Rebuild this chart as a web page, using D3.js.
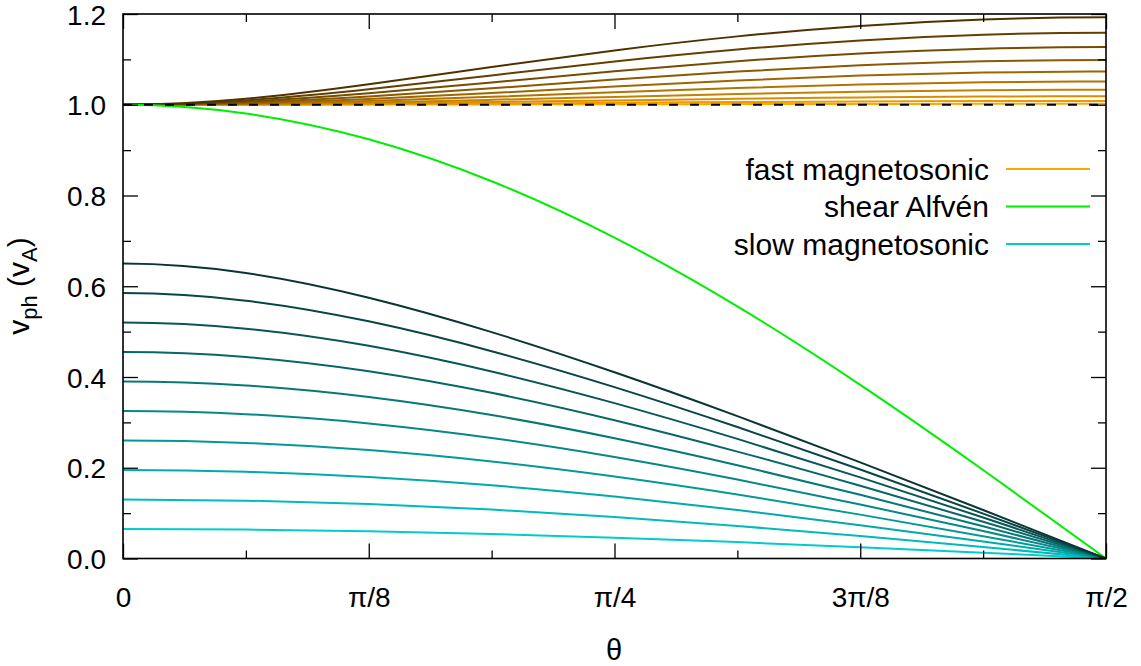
<!DOCTYPE html>
<html>
<head>
<meta charset="utf-8">
<script src="https://cdn.jsdelivr.net/npm/d3@7"></script>
<style>
  html, body { margin: 0; padding: 0; background: #fff; }
  svg { display: block; }
  text { font-family: "Liberation Sans", Arial, Helvetica, sans-serif; fill: #000; }
</style>
</head>
<body>
<svg id="chart" width="1141" height="666"></svg>
<script>
// θ sample positions (radians)
const theta = [0, 0.19635, 0.3927, 0.58905, 0.7854, 0.98175, 1.1781, 1.37445, 1.5708];

// fast magnetosonic branch, one curve per sound speed (low -> high)
const fast1  = [1, 1.0001, 1.0003, 1.0007, 1.0011, 1.0015, 1.0018, 1.0020, 1.0021];
const fast2  = [1, 1.0003, 1.0013, 1.0026, 1.0043, 1.0059, 1.0072, 1.0081, 1.0084];
const fast3  = [1, 1.0008, 1.0029, 1.0060, 1.0096, 1.0132, 1.0162, 1.0182, 1.0188];
const fast4  = [1, 1.0014, 1.0052, 1.0109, 1.0173, 1.0236, 1.0287, 1.0321, 1.0332];
const fast5  = [1, 1.0022, 1.0085, 1.0174, 1.0274, 1.0370, 1.0447, 1.0498, 1.0515];
const fast6  = [1, 1.0034, 1.0127, 1.0257, 1.0401, 1.0535, 1.0642, 1.0710, 1.0734];
const fast7  = [1, 1.0049, 1.0181, 1.0362, 1.0555, 1.0731, 1.0869, 1.0957, 1.0986];
const fast8  = [1, 1.0069, 1.0251, 1.0491, 1.0739, 1.0959, 1.1128, 1.1235, 1.1271];
const fast9  = [1, 1.0096, 1.0339, 1.0647, 1.0953, 1.1217, 1.1418, 1.1543, 1.1585];
const fast10 = [1, 1.0132, 1.0452, 1.0833, 1.1198, 1.1507, 1.1737, 1.1879, 1.1927];

// shear Alfvén
const alfven = [1, 0.9808, 0.9239, 0.8315, 0.7071, 0.5556, 0.3827, 0.1951, 0];

// slow magnetosonic branch
const slow1  = [0.065, 0.0637, 0.0600, 0.0540, 0.0459, 0.0361, 0.0248, 0.0127, 0];
const slow2  = [0.130, 0.1275, 0.1200, 0.1078, 0.0915, 0.0718, 0.0494, 0.0252, 0];
const slow3  = [0.195, 0.1911, 0.1796, 0.1612, 0.1366, 0.1069, 0.0734, 0.0374, 0];
const slow4  = [0.260, 0.2547, 0.2390, 0.2139, 0.1807, 0.1411, 0.0967, 0.0491, 0];
const slow5  = [0.325, 0.3181, 0.2977, 0.2656, 0.2237, 0.1741, 0.1191, 0.0604, 0];
const slow6  = [0.390, 0.3812, 0.3558, 0.3161, 0.2651, 0.2057, 0.1403, 0.0710, 0];
const slow7  = [0.455, 0.4441, 0.4129, 0.3651, 0.3048, 0.2356, 0.1602, 0.0810, 0];
const slow8  = [0.520, 0.5065, 0.4687, 0.4121, 0.3424, 0.2636, 0.1788, 0.0903, 0];
const slow9  = [0.585, 0.5683, 0.5227, 0.4569, 0.3777, 0.2897, 0.1961, 0.0989, 0];
const slow10 = [0.650, 0.6292, 0.5746, 0.4989, 0.4104, 0.3138, 0.2119, 0.1068, 0];

const fastSeries = [fast1, fast2, fast3, fast4, fast5, fast6, fast7, fast8, fast9, fast10];
const slowSeries = [slow1, slow2, slow3, slow4, slow5, slow6, slow7, slow8, slow9, slow10];

// axis ticks
const xTickValues = [0, 0.392699, 0.785398, 1.178097, 1.570796];
const xTickLabels = ["0", "π/8", "π/4", "3π/8", "π/2"];
const xMinorValues = [0.19635, 0.589049, 0.981748, 1.374447];
const yTickValues = [0, 0.2, 0.4, 0.6, 0.8, 1.0, 1.2];
const yMinorValues = [0.1, 0.3, 0.5, 0.7, 0.9, 1.1];

const legendLabels = ["fast magnetosonic", "shear Alfvén", "slow magnetosonic"];

// ---------------------------------------------------------------
const svg = d3.select("#chart");
const L = 123, R = 1106, T = 14, B = 558.5;
const x = d3.scaleLinear().domain([0, 1.570796]).range([L, R]);
const y = d3.scaleLinear().domain([0, 1.2]).range([B, T]);

const fastColor = d3.interpolateRgb("#ffa800", "#4f3200");
const slowColor = d3.interpolateRgb("#00cccc", "#0b3434");
const alfColor = "#00ee00";

svg.append("defs").append("clipPath").attr("id", "clip")
  .append("rect").attr("x", L).attr("y", T).attr("width", R - L).attr("height", B - T);

// The curves are even in θ about 0 (and the fast branch also about π/2):
// mirror the neighbouring samples across those ends so the spline leaves them flat.
function points(vals, mirrorRight) {
  const n = theta.length - 1;
  const pts = [[-theta[2], vals[2]], [-theta[1], vals[1]]];
  vals.forEach((v, i) => pts.push([theta[i], v]));
  if (mirrorRight) {
    pts.push([2 * theta[n] - theta[n - 1], vals[n - 1]]);
    pts.push([2 * theta[n] - theta[n - 2], vals[n - 2]]);
  }
  return pts;
}

const line = d3.line()
  .x(d => x(d[0]))
  .y(d => y(d[1]))
  .curve(d3.curveNatural);

const plot = svg.append("g").attr("clip-path", "url(#clip)");

fastSeries.forEach((s, k) => {
  plot.append("path").attr("d", line(points(s, true))).attr("fill", "none")
    .attr("stroke", fastColor(k / 9)).attr("stroke-width", 2);
});
plot.append("path").attr("d", line(points(alfven, false))).attr("fill", "none")
  .attr("stroke", alfColor).attr("stroke-width", 2);
slowSeries.forEach((s, k) => {
  plot.append("path").attr("d", line(points(s, false))).attr("fill", "none")
    .attr("stroke", slowColor(k / 9)).attr("stroke-width", 2);
});
// dashed reference at v_A
plot.append("line").attr("x1", L).attr("x2", R).attr("y1", y(1)).attr("y2", y(1))
  .attr("stroke", "#000").attr("stroke-width", 2).attr("stroke-dasharray", "9,12");

// axes (gnuplot style: inward ticks, mirrored)
const tickFont = 28;
const major = 15, minor = 8;

const axB = d3.axisBottom(x).tickValues(xTickValues).tickSizeInner(-major).tickSizeOuter(0)
  .tickFormat((d, i) => xTickLabels[i]);
const gB = svg.append("g").attr("transform", `translate(0,${B})`).call(axB);
gB.select(".domain").remove();
gB.selectAll("text").attr("font-size", tickFont).attr("font-family", null).attr("dy", 0)
  .attr("y", 48.5);

svg.append("g").attr("transform", `translate(0,${B})`)
  .call(d3.axisBottom(x).tickValues(xMinorValues).tickSizeInner(-minor).tickSizeOuter(0).tickFormat(""))
  .select(".domain").remove();
svg.append("g").attr("transform", `translate(0,${T})`)
  .call(d3.axisTop(x).tickValues(xTickValues).tickSizeInner(-major).tickSizeOuter(0).tickFormat(""))
  .select(".domain").remove();
svg.append("g").attr("transform", `translate(0,${T})`)
  .call(d3.axisTop(x).tickValues(xMinorValues).tickSizeInner(-minor).tickSizeOuter(0).tickFormat(""))
  .select(".domain").remove();

const axL = d3.axisLeft(y).tickValues(yTickValues).tickSizeInner(-major).tickSizeOuter(0)
  .tickFormat(d3.format(".1f"));
const gL = svg.append("g").attr("transform", `translate(${L},0)`).call(axL);
gL.select(".domain").remove();
gL.selectAll("text").attr("font-size", tickFont).attr("font-family", null)
  .attr("x", -17).attr("dy", "0.36em");

svg.append("g").attr("transform", `translate(${L},0)`)
  .call(d3.axisLeft(y).tickValues(yMinorValues).tickSizeInner(-minor).tickSizeOuter(0).tickFormat(""))
  .select(".domain").remove();
svg.append("g").attr("transform", `translate(${R},0)`)
  .call(d3.axisRight(y).tickValues(yTickValues).tickSizeInner(-major).tickSizeOuter(0).tickFormat(""))
  .select(".domain").remove();
svg.append("g").attr("transform", `translate(${R},0)`)
  .call(d3.axisRight(y).tickValues(yMinorValues).tickSizeInner(-minor).tickSizeOuter(0).tickFormat(""))
  .select(".domain").remove();

svg.selectAll(".tick line").attr("stroke", "#000").attr("stroke-width", 1.3);

// frame
svg.append("rect").attr("x", L).attr("y", T).attr("width", R - L).attr("height", B - T)
  .attr("fill", "none").attr("stroke", "#000").attr("stroke-width", 1.6);

// axis titles
svg.append("text").attr("x", 614).attr("y", 660).attr("text-anchor", "middle")
  .attr("font-size", 29).text("θ");

const yt = svg.append("text").attr("transform", "translate(29,286) rotate(-90)")
  .attr("text-anchor", "middle").attr("font-size", 30);
yt.append("tspan").text("v");
yt.append("tspan").attr("font-size", 22).attr("dy", 8).text("ph");
yt.append("tspan").attr("dy", -8).text(" (v");
yt.append("tspan").attr("font-size", 22).attr("dy", 8).text("A");
yt.append("tspan").attr("dy", -8).text(")");

// legend
const legColors = [fastColor(0), alfColor, slowColor(0)];
const legY = [169, 206.5, 244];
legendLabels.forEach((lab, i) => {
  svg.append("text").attr("x", 989).attr("y", legY[i] + 10.5).attr("text-anchor", "end")
    .attr("font-size", 30).text(lab);
  svg.append("line").attr("x1", 1006).attr("x2", 1090).attr("y1", legY[i]).attr("y2", legY[i])
    .attr("stroke", legColors[i]).attr("stroke-width", 2);
});
</script>
</body>
</html>
